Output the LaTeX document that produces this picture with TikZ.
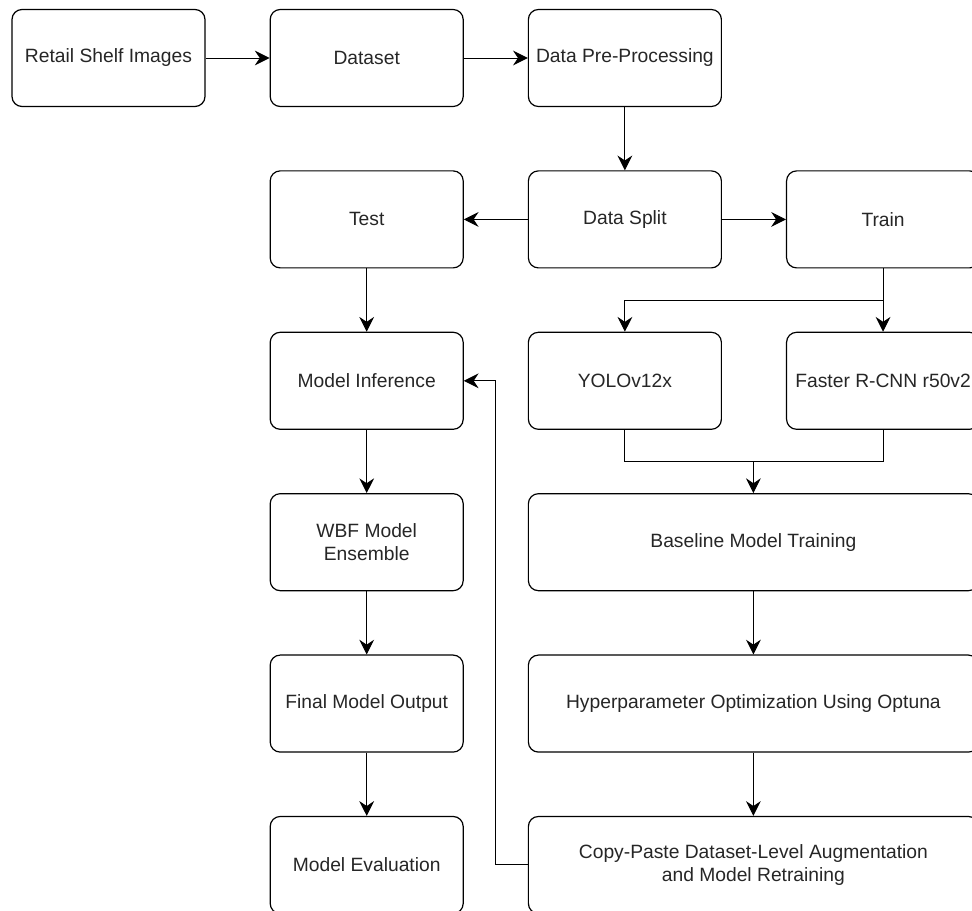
\documentclass[tikz,border=0pt]{standalone}
\usepackage{fontspec}
\setmainfont{Liberation Sans}
\usetikzlibrary{positioning,arrows.meta}

\begin{document}
\begin{tikzpicture}[->, >={Stealth[length=10.5pt,width=10.5pt,inset=3.5pt]}, node distance=1.58cm and 1.6cm,
                        box/.style={draw,rounded corners=0.25cm,line width=0.85pt,minimum width=4.825cm,minimum height=2.425cm,align=center,inner sep=2pt,text=black!85},
                        widebox/.style={box,minimum width=11.25cm},
                        line width=0.7pt,font=\fontsize{13.7}{16.5}\selectfont
                        ]
    \useasboundingbox (-2.7125,1.45) rectangle ++(24.3,-22.775);
    \node (ret) [box] at (0,0) {Retail Shelf Images};
    \node (data) [box,right=of ret] {Dataset};
    \node (prep) [box,right=of data] {Data Pre-Processing};
    \node (split) [box,below=of prep] {Data Split};
    \node (test) [box,left=of split] {Test};
    \node (train) [box,right=of split] {Train};
    \node (infer) [box,below=of test] {Model Inference};
    \node (yolo) [box,below=of split] {YOLOv12x};
    \node (frcnn) [box,below=of train] {Faster R-CNN r50v2};
    \node (wbf) [box,below=of infer] {WBF Model\\Ensemble};
    \node (base) [widebox,below=of yolo.south west,anchor=north west] {Baseline Model Training};
    \node (final) [box,below=of wbf] {Final Model Output};
    \node (hpo) [widebox,below=of base] {Hyperparameter Optimization Using Optuna};
    \node (modeleval) [box,below=of final] {Model Evaluation};
    \node (copy) [widebox,below=of hpo] {Copy-Paste Dataset-Level Augmentation\\and Model Retraining};
    \coordinate[below=0.79cm of train.south] (fork);
    \coordinate[above=0.79cm of base.north] (join);
    \draw[->] (ret) -- (data);
    \draw[->] (data) -- (prep);
    \draw[->] (prep) -- (split);
    \draw[->] (split) -- (test);
    \draw[->] (split) -- (train);
    \draw[->] (test) -- (infer);
    \draw[->] (train) -- (fork) -| (yolo);
    \draw[->] (fork) -- (frcnn);
    \draw[-] (yolo) |- (join) -| (frcnn);
    \draw[->] (join) -- (base);
    \draw[->] (infer) -- (wbf);
    \draw[->] (wbf) -- (final);
    \draw[->] (final) -- (modeleval);
    \draw[->] (base) -- (hpo);
    \draw[->] (hpo) -- (copy);
    \draw[->] (copy.west) -- ++(-0.8,0) |- (infer.east);
    \end{tikzpicture}
\end{document}
